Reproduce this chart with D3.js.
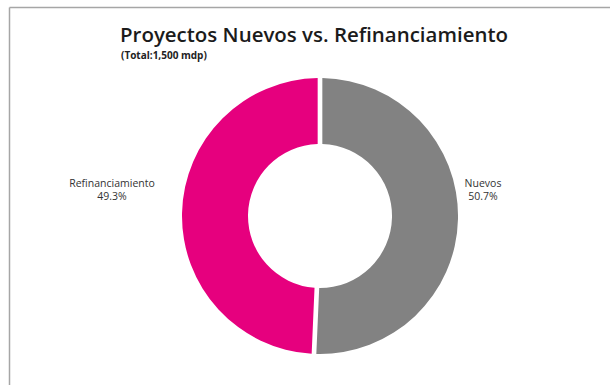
<!DOCTYPE html>
<html lang="es">
<head>
  <meta charset="UTF-8">
  <title>Proyectos Nuevos vs. Refinanciamiento</title>
  <script src="https://d3js.org/d3.v7.min.js"></script>
  <style>
    body { margin: 0; background: #fff; }
    text { font-family: "Open Sans", "Liberation Sans", sans-serif; }
  </style>
</head>
<body>
  <script>
    // Data
    var categories = ["Nuevos", "Refinanciamiento"];
    var shares = [50.7, 49.3];
    var colors = ["#828282", "#e6007e"];

    var w = 610, h = 385;
    var cx = 320, cy = 216;
    var outerR = 138, innerR = 72;

    var svg = d3.select("body").append("svg")
      .attr("width", w)
      .attr("height", h);

    // frame (top and left edges only are visible)
    svg.append("line").attr("x1", 9.5).attr("y1", 7.5).attr("x2", w).attr("y2", 7.5)
      .attr("stroke", "#a6a6a6").attr("stroke-width", 1.5);
    svg.append("line").attr("x1", 9.5).attr("y1", 7.5).attr("x2", 9.5).attr("y2", h)
      .attr("stroke", "#a6a6a6").attr("stroke-width", 1.5);

    // Title
    svg.append("text")
      .attr("x", 120).attr("y", 42)
      .attr("font-size", 20).attr("font-weight", 600)
      .attr("fill", "#1b1b1b")
      .attr("textLength", 388).attr("lengthAdjust", "spacingAndGlyphs")
      .text("Proyectos Nuevos vs. Refinanciamiento");

    svg.append("text")
      .attr("x", 121).attr("y", 59)
      .attr("font-size", 10).attr("font-weight", 700)
      .attr("fill", "#222")
      .text("(Total:1,500 mdp)");

    // Donut
    var pie = d3.pie().sort(null).value(function(d) { return d; }).padAngle(0.03);
    var arc = d3.arc().innerRadius(innerR).outerRadius(outerR);

    var g = svg.append("g").attr("transform", "translate(" + cx + "," + cy + ")");

    g.selectAll("path")
      .data(pie(shares))
      .enter()
      .append("path")
      .attr("d", arc)
      .attr("fill", function(d, i) { return colors[i]; });

    // Labels
    var labelPos = [[483, 187], [112, 187]];
    categories.forEach(function(c, i) {
      var t = svg.append("text")
        .attr("x", labelPos[i][0]).attr("y", labelPos[i][1])
        .attr("text-anchor", "middle")
        .attr("font-size", 10.5)
        .attr("fill", "#333");
      t.append("tspan").attr("x", labelPos[i][0]).text(c);
      t.append("tspan").attr("x", labelPos[i][0]).attr("dy", 12.5)
        .text(d3.format(".1f")(shares[i]) + "%");
    });
  </script>
</body>
</html>
